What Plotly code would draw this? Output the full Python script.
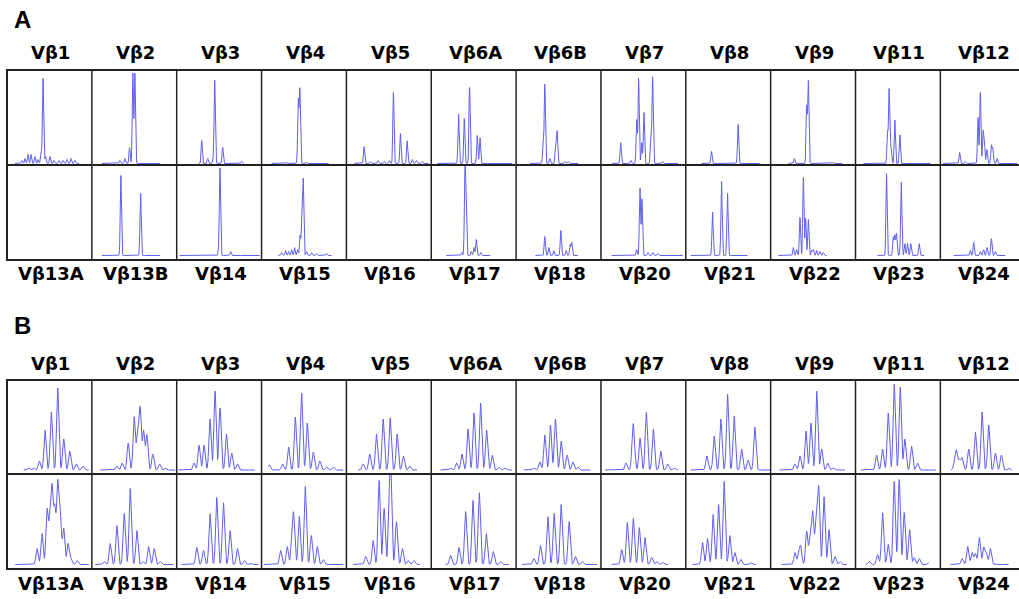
import numpy as np
import plotly.graph_objects as go

TOP_LABELS = ["Vβ1", "Vβ2", "Vβ3", "Vβ4", "Vβ5", "Vβ6A", "Vβ6B", "Vβ7", "Vβ8", "Vβ9", "Vβ11", "Vβ12"]
BOTTOM_LABELS = ["Vβ13A", "Vβ13B", "Vβ14", "Vβ15", "Vβ16", "Vβ17", "Vβ18", "Vβ20", "Vβ21", "Vβ22", "Vβ23", "Vβ24"]

# Each entry: (trace start, trace end, peak positions, peak heights); None = no trace
A_TOP = [
    (8, 72, [15, 18, 21, 24, 28, 31, 34, 36, 38.5, 43, 47, 52, 56, 60, 64, 68], [3, 5, 9, 9, 7, 4, 12, 85, 7, 7, 3, 3, 3, 4, 5, 3]),
    (10, 68, [28, 33, 37.7, 41, 43], [3, 5, 16, 90, 90]),
    (22, 67, [25, 31, 36.5, 38, 46, 65], [23, 5, 4, 83, 16, 2]),
    (10, 67, [25, 36.7, 38.3, 45], [1, 63, 74, 1]),
    (8, 82, [17.7, 24, 31.7, 38, 43, 47, 54, 60.7, 66, 70, 76], [17, 2, 3, 2, 3, 71, 30, 23, 4, 3, 2]),
    (6, 81, [27.3, 33, 38.3, 46, 48.7], [50, 45, 77, 28, 26]),
    (14, 62, [27, 28.7, 33.7, 39.5, 41, 49, 52], [17, 80, 5, 20, 32, 2, 2]),
    (11, 77, [19.7, 30, 35.7, 37.7, 40.7, 43, 50, 51.7, 62], [21, 3, 44, 86, 21, 51, 34, 87, 2]),
    (15.7, 74, [25.7, 52.3], [12, 39]),
    (17.7, 71.7, [23.7, 36, 37.7, 62], [5, 57, 82, 1]),
    (8, 75, [32, 33.7, 35.5, 39.3, 44.3], [32, 75, 15, 44, 29]),
    (2.7, 76.7, [19.3, 25, 37.7, 40, 42.7, 44, 46.5, 51, 52.5, 56.7], [11, 2, 46, 72, 31, 22, 14, 18, 15, 5]),
]
A_BOTTOM = [
    None,
    (10, 68, [29, 48.7], [80, 63]),
    (3, 83, [42, 43.3, 54], [6, 88, 4]),
    (16.7, 70, [20, 24, 27, 30, 33, 36, 38.5, 40.3, 41.7, 45, 50, 55, 65], [3, 5, 4, 6, 8, 6, 20, 37, 75, 4, 3, 2, 2]),
    None,
    (15, 59, [30.5, 33.7, 34.8, 40, 42.7, 45, 49.5], [3, 87, 42, 4, 8, 16, 3]),
    (19.3, 61.7, [28.7, 32.7, 37.7, 44.7, 50, 54, 55.7], [19, 8, 5, 25, 5, 11, 13]),
    (10.7, 82, [35.7, 39, 41, 47, 52, 57], [6, 68, 57, 3, 3, 2]),
    (5, 61.7, [26.7, 35.7, 41.7], [44, 75, 63]),
    (7.7, 56, [22.7, 26, 29.3, 32.7, 35, 37.7, 41, 42.7, 46, 49.3, 52.7], [8, 6, 38, 78, 38, 36, 5, 6, 5, 4, 3]),
    (22, 68.7, [31, 37.7, 39.3, 41, 45.7, 49.3, 52, 55.3, 63.7], [82, 18, 20, 22, 74, 12, 12, 12, 12]),
    (13.3, 65, [30, 33.3, 40, 43.3, 46.7, 51, 55], [5, 13, 4, 6, 8, 17, 4]),
]
B_TOP = [
    (16.7, 81.7, [21.7, 26.7, 32.3, 38, 44.3, 50.7, 56.7, 62.7, 69.3, 76], [2, 2, 9, 40, 58, 82, 31, 19, 6, 4]),
    (8.3, 83.3, [25, 30.3, 36.3, 42.3, 45.7, 48.3, 51.7, 55, 61, 67.7, 73.3], [4, 7, 27, 53, 38, 61, 39, 35, 16, 6, 2]),
    (1.7, 78, [17.3, 22.3, 27.3, 33.3, 38.3, 43.3, 49.7, 55, 60.7], [7, 25, 25, 51, 79, 62, 36, 17, 6]),
    (6.7, 81.7, [7.7, 21, 27, 33.7, 40, 45.7, 51.7, 58.3, 65, 71.7], [5, 6, 23, 53, 77, 47, 18, 9, 3, 3]),
    (11.7, 70.7, [16.7, 23.3, 30, 36.7, 43.7, 50.7, 57, 63.3], [6, 16, 36, 51, 52, 36, 14, 4]),
    (9.3, 81, [19.3, 25.3, 30.7, 36.7, 42.7, 49.3, 55.3, 61, 67.7, 73.7], [2, 7, 16, 41, 57, 67, 40, 15, 3, 2]),
    (7.7, 74.3, [17.7, 23.7, 28.7, 34.3, 39.3, 45, 51, 56.7, 61.7], [2, 8, 35, 45, 51, 29, 15, 8, 3]),
    (4, 77.3, [25, 31.7, 33, 39, 45.3, 52.3, 59.7, 66.7, 73.3], [7, 31, 24, 32, 58, 41, 19, 6, 2]),
    (5, 85, [21, 28.3, 35, 41.7, 48.3, 55.7, 62.3, 69], [14, 34, 51, 76, 54, 21, 10, 43]),
    (8.7, 74.3, [24.3, 29.3, 35.3, 40.3, 46, 51, 57, 62.7], [6, 14, 39, 47, 79, 21, 7, 2]),
    (5.3, 80.3, [21, 27, 32.7, 38.7, 44.7, 49.3, 56, 62], [15, 21, 57, 86, 83, 31, 24, 7]),
    (10.7, 71.7, [14, 16, 19, 21.7, 28.3, 35, 41.7, 48.3, 55, 61, 68.3], [6, 19, 10, 12, 21, 38, 58, 45, 17, 15, 2]),
]
B_BOTTOM = [
    (8.3, 81.7, [30, 35, 40, 42.7, 45, 47.7, 50.7, 53.3, 56.7, 61, 64, 70], [16, 31, 54, 40, 74, 55, 81, 50, 36, 21, 6, 4]),
    (3.3, 81.7, [12.3, 18.3, 25, 32.3, 38.3, 45, 51, 56.7, 62.3, 68.3], [3, 21, 39, 51, 76, 34, 3, 18, 16, 3]),
    (5, 81.7, [20, 26.7, 33.3, 40, 46.7, 53.3, 60.7, 67.7, 74], [17, 14, 51, 67, 62, 34, 16, 4, 1]),
    (2.3, 81.7, [19, 25.7, 30.5, 32.3, 37.7, 43.7, 49.7, 55.7, 61.7], [14, 18, 30, 42, 48, 78, 29, 18, 5]),
    (6.7, 73.3, [19.3, 26.7, 32.7, 37.7, 42.7, 44.3, 50, 56, 61.7, 67.3], [8, 24, 84, 56, 46, 89, 43, 16, 4, 4]),
    (14.3, 77.7, [19.3, 27.7, 34.3, 41.7, 48, 55, 62, 69.3], [9, 17, 53, 64, 72, 31, 13, 3]),
    (6, 81, [17.7, 24.3, 31.7, 38, 45, 53, 59.3, 66], [6, 19, 48, 51, 60, 43, 8, 3]),
    (10.7, 67.3, [20.7, 26.3, 32.3, 38.3, 44, 50.7, 55.7, 61.7], [15, 42, 46, 37, 27, 7, 3, 2]),
    (6.7, 70, [16.7, 21.7, 27.3, 32.7, 38.3, 44, 49, 55, 65], [22, 26, 50, 60, 83, 29, 12, 5, 2]),
    (11, 76, [24.3, 28, 30, 36, 39.3, 42, 45.3, 48, 53.3, 58.3, 64.3, 69.3], [12, 10, 17, 33, 26, 52, 42, 77, 68, 35, 8, 3]),
    (10.3, 73.7, [13.7, 22, 27, 32.7, 38.7, 43.7, 48.7, 54, 58.7, 63.7, 73.7], [3, 10, 52, 20, 83, 85, 52, 35, 7, 6, 2]),
    (10, 68.3, [21.7, 27.3, 31.7, 35, 39, 43.3, 46, 50, 55], [6, 18, 12, 11, 27, 17, 11, 16, 1]),
]

# ---------------- layout geometry (pixels) ----------------
W, H = 1019, 599
X0, CW = 7.0, 84.85
NCOL = 12
PANELS = [
    # name, data rows, row edges (top, mid, bottom), baseline offsets, peak sigma,
    # letter y, top label y, bottom label y
    ("A", (A_TOP, A_BOTTOM), (70, 165, 260), (1.5, 4.5), 0.6, 20, 53, 273),
    ("B", (B_TOP, B_BOTTOM), (380, 474, 569), (4.0, 4.5), 1.1, 325, 363, 583),
]
LINE_COLOR = "rgb(95,95,238)"
GRID_COLOR = "#222222"
LABEL_FONT = dict(family="DejaVu Sans", size=18, color="black")

def px(x):
    return x / W

def py(y):
    return 1 - y / H

fig = go.Figure()
layout_axes = {}
shapes = []
annotations = []
n = 0
for name, rows, edges, offs, sigma, ly, ty, by in PANELS:
    for r in range(2):
        top, bot = edges[r], edges[r + 1]
        ch = bot - top
        off = offs[r]
        for c in range(NCOL):
            n += 1
            xa = "xaxis" if n == 1 else f"xaxis{n}"
            ya = "yaxis" if n == 1 else f"yaxis{n}"
            left = X0 + CW * c
            right = min(left + CW, W)
            layout_axes[xa] = dict(domain=[px(left), px(right)], range=[0, right - left],
                                   visible=False, fixedrange=True)
            layout_axes[ya] = dict(domain=[py(bot), py(top)], range=[-off, ch - off],
                                   visible=False, fixedrange=True)
            entry = rows[r][c]
            if entry is None:
                continue
            start, end, pos, hts = entry
            xs = np.arange(start, end + 0.01, 0.2)
            ys = np.zeros_like(xs)
            for p, h in zip(pos, hts):
                ys += h * np.exp(-((xs - p) ** 2) / (2 * sigma ** 2))
            fig.add_trace(go.Scatter(
                x=xs, y=ys, mode="lines",
                line=dict(color=LINE_COLOR, width=1),
                xaxis=f"x{'' if n == 1 else n}", yaxis=f"y{'' if n == 1 else n}",
                hoverinfo="skip", showlegend=False))
    # grid lines
    for yy in edges:
        shapes.append(dict(type="line", xref="paper", yref="paper",
                           x0=px(X0 - 1), x1=1, y0=py(yy), y1=py(yy),
                           line=dict(color=GRID_COLOR, width=2)))
    for c in range(NCOL):
        xx = X0 + CW * c
        shapes.append(dict(type="line", xref="paper", yref="paper",
                           x0=px(xx), x1=px(xx), y0=py(edges[0]), y1=py(edges[2]),
                           line=dict(color=GRID_COLOR, width=2 if c == 0 else 1.5)))
    # labels
    annotations.append(dict(text=f"<b>{name}</b>", x=px(12), y=py(ly), xref="paper", yref="paper",
                            xanchor="left", yanchor="middle", showarrow=False,
                            font=dict(family="Arial", size=24, color="black")))
    for c in range(NCOL):
        cx = X0 + CW * (c + 0.5) + 1.5
        annotations.append(dict(text=f"<b>{TOP_LABELS[c]}</b>", x=px(cx), y=py(ty),
                                xref="paper", yref="paper", xanchor="center", yanchor="middle",
                                showarrow=False, font=LABEL_FONT))
        annotations.append(dict(text=f"<b>{BOTTOM_LABELS[c]}</b>", x=px(cx), y=py(by),
                                xref="paper", yref="paper", xanchor="center", yanchor="middle",
                                showarrow=False, font=LABEL_FONT))

fig.update_layout(
    width=W, height=H,
    margin=dict(l=0, r=0, t=0, b=0),
    paper_bgcolor="white", plot_bgcolor="rgba(0,0,0,0)",
    shapes=shapes, annotations=annotations,
    showlegend=False,
    **layout_axes,
)
fig.write_html("out.html", config={"displayModeBar": False})
